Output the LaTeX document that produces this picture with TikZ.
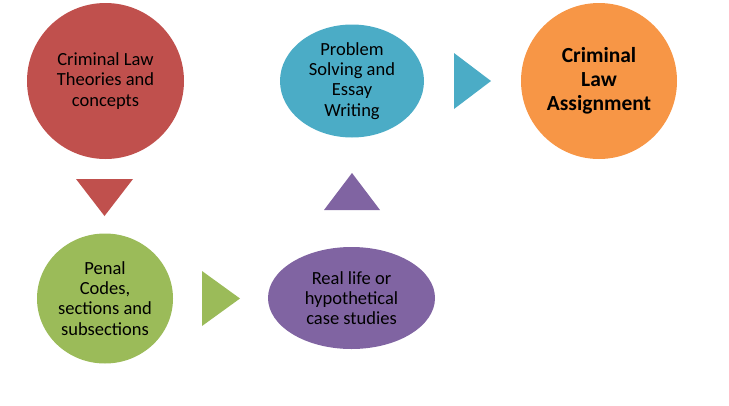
\documentclass[tikz,border=0pt]{standalone}
\usepackage{fontspec}
\setmainfont{Carlito}
\usepackage{tikz}
\usetikzlibrary{shapes.geometric}

\definecolor{lawred}{HTML}{C0504D}
\definecolor{lawgreen}{HTML}{9BBB59}
\definecolor{lawpurple}{HTML}{8064A2}
\definecolor{lawblue}{HTML}{4BACC6}
\definecolor{laworange}{HTML}{F79646}

\begin{document}
\begin{tikzpicture}[
  x=1pt, y=1pt,
  stage/.style={ellipse, inner sep=0pt, align=center, text=black, font=\fontsize{18.5}{20.2}\selectfont},
  goal/.style={stage, font=\fontsize{21.5}{24}\selectfont\bfseries}
]
\useasboundingbox (0,0) rectangle (729,-405);

\node[stage, fill=lawred, minimum width=157, minimum height=156] (theory) at (105.5,-81) {Criminal Law\\Theories and\\concepts};
\node[stage, fill=lawgreen, minimum width=136, minimum height=130] (penal) at (105,-298.5) {Penal\\Codes,\\sections and\\subsections};
\node[stage, fill=lawpurple, minimum width=167, minimum height=102] (cases) at (351.5,-298) {Real life or\\hypothetical\\case studies};
\node[stage, fill=lawblue, minimum width=144, minimum height=113] (essay) at (352,-81) {Problem\\Solving and\\Essay\\Writing};
\node[goal, fill=laworange, minimum width=156, minimum height=156] (assign) at (599,-81) {Criminal\\Law\\Assignment};

% pointers between the stages
\fill[lawred] (76,-179) -- (133,-179) -- (104.5,-216) -- cycle;
\fill[lawgreen] (202,-271) -- (240,-298.5) -- (202,-326) -- cycle;
\fill[lawpurple] (324,-210) -- (380,-210) -- (352,-173) -- cycle;
\fill[lawblue] (454,-53) -- (491,-81) -- (454,-109) -- cycle;

\end{tikzpicture}
\end{document}
